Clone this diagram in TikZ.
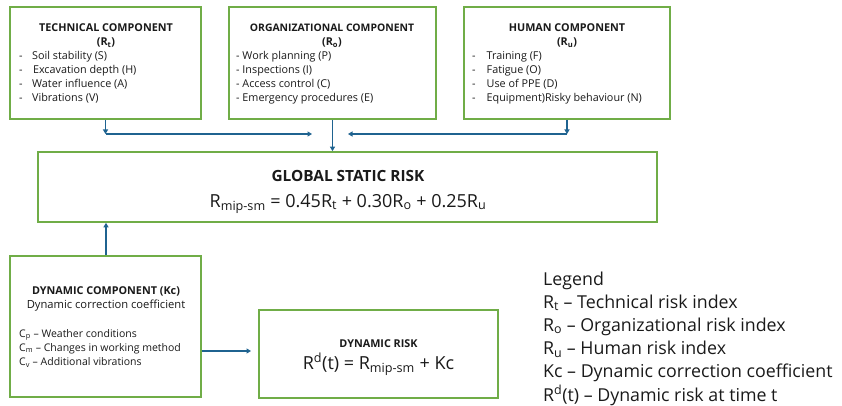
\documentclass[tikz,border=0pt]{standalone}
\usepackage{fontspec}
\setmainfont{Open Sans}
\usetikzlibrary{arrows.meta}
\definecolor{gbord}{HTML}{70AD47}
\definecolor{arrc}{HTML}{1F6390}
\definecolor{txt}{HTML}{1A1A1A}
\newcommand{\sub}[1]{\textsubscript{#1}}
\newcommand{\ssub}[1]{\textsubscript{\rmfamily #1}}
\begin{document}
\begin{tikzpicture}[x=1pt,y=-1pt,
  box/.style={draw=gbord,line width=1.6pt,inner sep=0pt,fill=white},
  arr/.style={draw=arrc,line width=1.3pt,-{Triangle[length=4.5pt,width=5pt]}},
  head/.style={font=\fontsize{10.8}{12}\selectfont\bfseries,text=txt,inner sep=0pt,anchor=base},
  item/.style={font=\fontsize{10.8}{14}\selectfont,text=txt,inner sep=0pt,anchor=base west},
  big/.style={font=\fontsize{18}{20}\selectfont,text=txt,inner sep=0pt,anchor=base},
  legend/.style={font=\fontsize{17.8}{23.2}\selectfont,text=txt,inner sep=0pt,anchor=base west}]
\useasboundingbox (0,0) rectangle (842,406);
% boxes
\node[box,minimum width=191pt,minimum height=112pt] (tech) at (105.5,63) {};
\node[box,minimum width=207pt,minimum height=112pt] (org) at (332.5,63) {};
\node[box,minimum width=206pt,minimum height=112pt] (hum) at (567,63) {};
\node[box,minimum width=619pt,minimum height=70pt] (glob) at (347.5,187) {};
\node[box,minimum width=191pt,minimum height=141pt] (dyn) at (105.5,326.5) {};
\node[box,minimum width=239pt,minimum height=88pt] (drisk) at (378.5,354) {};
% technical
\node[head] (th) at (106,32) {TECHNICAL COMPONENT};
\node[head] (ts) at (106,46) {(R\sub{t})};
\node[item] (tl) at (19,60) {\begin{tabular}[t]{@{}p{13pt}@{}l@{}}
-&Soil stability (S)\\ -&\kern0.8pt Excavation depth (H)\\ -&Water influence (A)\\ -&Vibrations (V)\end{tabular}};
% organizational
\node[head,font=\fontsize{10.4}{12}\selectfont\bfseries] (oh) at (332,32) {ORGANIZATIONAL COMPONENT};
\node[head] (os) at (332,46) {(R\sub{o})};
\node[item] (ol) at (236,60) {\begin{tabular}[t]{@{}l@{}}
- Work planning (P)\\ - Inspections (I)\\ - Access control (C)\\ - Emergency procedures (E)\end{tabular}};
% human
\node[head] (hh) at (567,32) {HUMAN COMPONENT};
\node[head] (hs) at (567,46) {(R\sub{u})};
\node[item] (hl) at (472,60) {\begin{tabular}[t]{@{}p{14.5pt}@{}l@{}}
-&Training (F)\\ -&Fatigue (O)\\ -&Use of PPE (D)\\ -&Equipment)Risky behaviour (N)\end{tabular}};
% global
\node[big,font=\fontsize{15.4}{18}\selectfont\bfseries] (gh) at (348,182) {GLOBAL STATIC RISK};
\node[big] (gf) at (348,207) {R\ssub{mip-sm} = 0.45R\ssub{t} + 0.30R\sub{o} + 0.25R\sub{u}};
% dynamic component
\node[head] (dh) at (106,294) {DYNAMIC COMPONENT (Kc)};
\node[item,font=\fontsize{11.2}{14}\selectfont,anchor=base] (dc) at (106,308) {Dynamic correction coefficient};
\node[item,font=\fontsize{10.5}{14.2}\selectfont] (dl) at (19,337) {\begin{tabular}[t]{@{}l@{}}
C\sub{p} – Weather conditions\\ C\sub{m} – Changes in working method\\ C\sub{v} – Additional vibrations\end{tabular}};
% dynamic risk
\node[head] (rh) at (378.5,347) {DYNAMIC RISK};
\node[big] (rf) at (378.5,369) {R\textsuperscript{d}(t) = R\ssub{mip-sm} + Kc};
% legend
\node[legend] (leg) at (543,285) {\begin{tabular}[t]{@{}l@{}}
Legend\\ R\sub{t} – Technical risk index\\ R\sub{o} – Organizational risk index\\ R\sub{u} – Human risk index\\ Kc – Dynamic correction coefficient\\ R\textsuperscript{d}(t) – Dynamic risk at time t\end{tabular}};
% connectors
\coordinate (c1) at (tech.south |- 0,134);
\coordinate (c2) at (hum.south |- 0,134);
\coordinate (e1) at (312,134);
\coordinate (e2) at (348,134);
\draw[arr] (tech.south) -- (c1);
\draw[arr] (c1) -- (e1);
\draw[arr] (hum.south) -- (c2);
\draw[arr] (c2) -- (e2);
\draw[arr] (org.south) -- (org.south |- glob.north);
\draw[arr] (dyn.north -| 106,0) -- (glob.south -| 106,0);
\coordinate (e3) at (251,351);
\draw[arr] (dyn.east |- e3) -- (e3);
\end{tikzpicture}
\end{document}
